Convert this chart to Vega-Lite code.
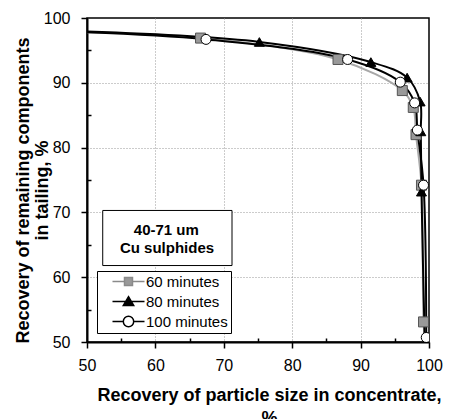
{
  "$schema": "https://vega.github.io/schema/vega-lite/v6.json",
  "width": 342,
  "height": 324,
  "autosize": {"type": "none"},
  "padding": {"left": 87, "top": 18, "right": 22, "bottom": 77},
  "background": "white",
  "config": {
    "font": "Liberation Sans",
    "view": {"stroke": "black", "strokeWidth": 1.5},
    "axis": {"labelColor": "black", "titleColor": "black"},
    "legend": {
      "orient": "none",
      "legendX": 10,
      "legendY": 253,
      "strokeColor": "black",
      "fillColor": "white",
      "padding": 3,
      "labelFontSize": 15,
      "labelColor": "black",
      "rowPadding": 3,
      "symbolSize": 64,
      "symbolOffset": 21,
      "labelOffset": 10,
      "symbolStrokeWidth": 1.5
    }
  },
  "resolve": {
    "scale": {"shape": "independent", "fill": "independent", "stroke": "independent"},
    "legend": {"shape": "independent", "fill": "independent", "stroke": "independent"}
  },
  "data": {
    "values": [
      {"series": "60 minutes", "x": 50, "y": 97.8},
      {"series": "60 minutes", "x": 66.6, "y": 96.9},
      {"series": "60 minutes", "x": 86.7, "y": 93.6},
      {"series": "60 minutes", "x": 96.1, "y": 88.8},
      {"series": "60 minutes", "x": 97.7, "y": 86.2},
      {"series": "60 minutes", "x": 98.1, "y": 82.0},
      {"series": "60 minutes", "x": 98.9, "y": 74.2},
      {"series": "60 minutes", "x": 99.2, "y": 53.1},
      {"series": "60 minutes", "x": 99.5, "y": 49.0},
      {"series": "80 minutes", "x": 50, "y": 97.9},
      {"series": "80 minutes", "x": 75.2, "y": 96.3},
      {"series": "80 minutes", "x": 91.5, "y": 93.2},
      {"series": "80 minutes", "x": 96.8, "y": 90.8},
      {"series": "80 minutes", "x": 98.7, "y": 87.1},
      {"series": "80 minutes", "x": 98.8, "y": 82.5},
      {"series": "80 minutes", "x": 98.9, "y": 73.2},
      {"series": "80 minutes", "x": 99.4, "y": 49.0},
      {"series": "100 minutes", "x": 50, "y": 97.8},
      {"series": "100 minutes", "x": 67.4, "y": 96.7},
      {"series": "100 minutes", "x": 88.1, "y": 93.6},
      {"series": "100 minutes", "x": 95.8, "y": 90.1},
      {"series": "100 minutes", "x": 97.9, "y": 86.9},
      {"series": "100 minutes", "x": 98.3, "y": 82.7},
      {"series": "100 minutes", "x": 99.2, "y": 74.2},
      {"series": "100 minutes", "x": 99.6, "y": 50.7}
    ]
  },
  "encoding": {
    "x": {
      "field": "x",
      "type": "quantitative",
      "scale": {"domain": [50, 100], "nice": false, "zero": false},
      "axis": {
        "values": [50, 55, 60, 65, 70, 75, 80, 85, 90, 95, 100],
        "labelExpr": "datum.value % 10 == 0 ? datum.label : ''",
        "labelFontSize": 16,
        "labelPadding": 9,
        "labelFlush": false,
        "labelOverlap": false,
        "tickColor": "black",
        "tickWidth": 1.5,
        "tickSize": {"condition": {"test": "datum.value % 10 != 0", "value": -4}, "value": 6},
        "domainColor": "black",
        "domainWidth": 2,
        "gridColor": "#999999",
        "gridDash": [1, 2],
        "gridWidth": 1,
        "gridOpacity": {"condition": {"test": "datum.value % 10 != 0 || datum.value == 50 || datum.value == 100", "value": 0}, "value": 1},
        "title": ["Recovery of particle size in concentrate,", "%"],
        "titleFontSize": 18,
        "titleFontWeight": "bold",
        "titleLineHeight": 23,
        "titleX": 182,
        "titleY": 58,
        "titleAlign": "center",
        "titleBaseline": "alphabetic"
      }
    },
    "y": {
      "field": "y",
      "type": "quantitative",
      "scale": {"domain": [50, 100], "nice": false, "zero": false},
      "axis": {
        "values": [50, 55, 60, 65, 70, 75, 80, 85, 90, 95, 100],
        "labelExpr": "datum.value % 10 == 0 ? datum.label : ''",
        "labelFontSize": 16,
        "labelPadding": 11,
        "labelFlush": false,
        "labelOverlap": false,
        "tickColor": "black",
        "tickWidth": 1.5,
        "tickSize": {"condition": {"test": "datum.value % 10 != 0", "value": -4}, "value": 6},
        "domainColor": "black",
        "domainWidth": 2,
        "gridColor": "#999999",
        "gridDash": [1, 2],
        "gridWidth": 1,
        "gridOpacity": {"condition": {"test": "datum.value % 10 != 0 || datum.value == 50 || datum.value == 100", "value": 0}, "value": 1},
        "title": ["Recovery of remaining components", "in tailing, %"],
        "titleFontSize": 18,
        "titleFontWeight": "bold",
        "titleLineHeight": 19,
        "titleAngle": -90,
        "titleX": -59,
        "titleY": 172,
        "titleAlign": "center",
        "titleBaseline": "alphabetic"
      }
    }
  },
  "layer": [
    {
      "data": {"values": [{"x": 52.3, "x2": 71.2, "y": 70.3, "y2": 61.8}]},
      "mark": {"type": "rect", "fill": "white", "stroke": "black", "strokeWidth": 1},
      "encoding": {
        "x2": {"field": "x2"},
        "y2": {"field": "y2"}
      }
    },
    {
      "data": {"values": [
        {"x": 61.6, "y": 66.5, "label": "40-71 um"},
        {"x": 61.7, "y": 63.7, "label": "Cu sulphides"}
      ]},
      "mark": {"type": "text", "fontSize": 15, "fontWeight": "bold", "align": "center", "baseline": "alphabetic", "color": "black"},
      "encoding": {"text": {"field": "label", "type": "nominal"}}
    },
    {
      "transform": [{"filter": "datum.series == '60 minutes'"}],
      "mark": {"type": "line", "interpolate": "catmull-rom", "strokeWidth": 2, "clip": true, "stroke": "#a8a8a8"},
      "encoding": {
        "order": {"field": "y", "sort": "descending"}
      }
    },
    {
      "transform": [{"filter": "datum.series != '60 minutes'"}],
      "mark": {"type": "line", "interpolate": "catmull-rom", "strokeWidth": 2, "clip": true, "stroke": "black"},
      "encoding": {
        "detail": {"field": "series", "type": "nominal"},
        "order": {"field": "y", "sort": "descending"}
      }
    },
    {
      "transform": [{"filter": "datum.x > 50 && datum.y >= 50"}],
      "mark": {"type": "point", "strokeWidth": 1, "opacity": 1, "size": 100, "clip": true},
      "encoding": {
        "shape": {
          "field": "series",
          "type": "nominal",
          "scale": {"domain": ["60 minutes", "80 minutes", "100 minutes"], "range": ["square", "triangle-up", "circle"]},
          "legend": null
        },
        "fill": {
          "field": "series",
          "type": "nominal",
          "scale": {"domain": ["60 minutes", "80 minutes", "100 minutes"], "range": ["#999999", "#000000", "#ffffff"]},
          "legend": null
        },
        "stroke": {
          "field": "series",
          "type": "nominal",
          "scale": {"domain": ["60 minutes", "80 minutes", "100 minutes"], "range": ["#555555", "#000000", "#000000"]},
          "legend": null
        }
      }
    },
    {
      "transform": [{"filter": "datum.x < 0"}],
      "mark": {"type": "point", "strokeWidth": 1.5, "opacity": 1, "size": 64},
      "encoding": {
        "shape": {
          "field": "series",
          "type": "nominal",
          "scale": {
            "domain": ["60 minutes", "80 minutes", "100 minutes"],
            "range": [
              "M-4,0H-1M1,0H4M-1,-1H1V1H-1Z",
              "M-4,0H4M0,-1.2L1.3,1H-1.3Z",
              "M-4,0H-1.3M1.3,0H4M-1.3,0A1.3,1.3,0,1,0,1.3,0A1.3,1.3,0,1,0,-1.3,0Z"
            ]
          },
          "legend": {"title": null, "labelExpr": "datum.label + '\u00a0\u00a0'"}
        },
        "fill": {
          "field": "series",
          "type": "nominal",
          "scale": {"domain": ["60 minutes", "80 minutes", "100 minutes"], "range": ["#999999", "#000000", "#ffffff"]},
          "legend": {"title": null, "labelExpr": "datum.label + '\u00a0\u00a0'"}
        },
        "stroke": {
          "field": "series",
          "type": "nominal",
          "scale": {"domain": ["60 minutes", "80 minutes", "100 minutes"], "range": ["#8a8a8a", "#000000", "#000000"]},
          "legend": {"title": null, "labelExpr": "datum.label + '\u00a0\u00a0'"}
        }
      }
    }
  ]
}
